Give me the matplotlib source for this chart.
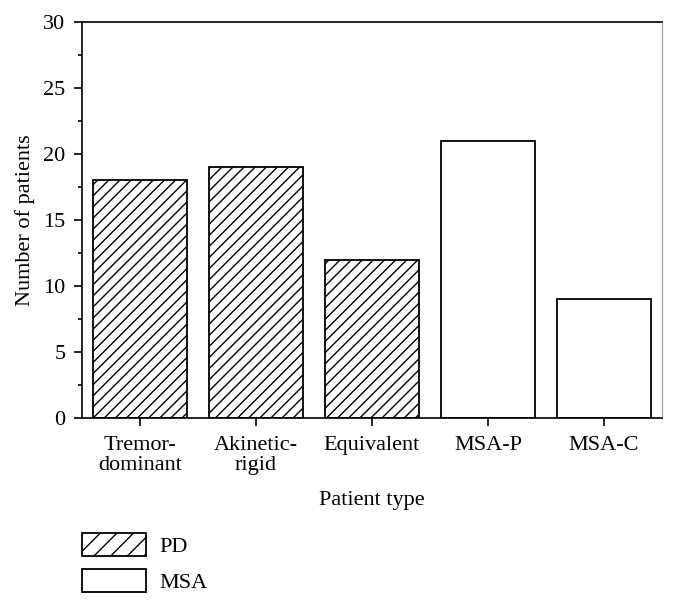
import matplotlib.pyplot as plt
from matplotlib.patches import Patch
from matplotlib.ticker import MultipleLocator

plt.rcParams['font.family'] = ['Liberation Serif', 'DejaVu Serif']
plt.rcParams['hatch.linewidth'] = 0.5

# data
categories = ['Tremor-\ndominant', 'Akinetic-\nrigid', 'Equivalent', 'MSA-P', 'MSA-C']
counts = [18, 19, 12, 21, 9]
groups = ['PD', 'PD', 'PD', 'MSA', 'MSA']

# 200 dpi so the hatch spacing comes out close to the original
DPI = 200
W, H = 676, 609
fig = plt.figure(figsize=(W / DPI, H / DPI), dpi=DPI)
ax = fig.add_axes([82 / W, 1 - 418 / H, (662 - 82) / W, (418 - 22) / H])

x = range(len(categories))
hatches = ['//////' if g == 'PD' else '' for g in groups]
ax.bar(x, counts, width=0.81, color='white', edgecolor='black', linewidth=0.65,
       hatch=hatches)

fs = 8
ax.set_xlim(-0.5, 4.5)
ax.set_ylim(0, 30)
ax.set_xticks(list(x))
ax.set_xticklabels(categories, fontsize=fs, linespacing=1.05)
ax.yaxis.set_major_locator(MultipleLocator(5))
ax.yaxis.set_minor_locator(MultipleLocator(2.5))
ax.tick_params(axis='both', direction='out', length=3, width=0.6, labelsize=fs)
ax.tick_params(axis='y', which='minor', direction='out', length=1.6, width=0.6)
ax.tick_params(axis='x', pad=3.5)
ax.tick_params(axis='y', pad=3)

for side in ['left', 'bottom', 'top']:
    ax.spines[side].set_linewidth(0.6)
ax.spines['right'].set_linewidth(0.4)
ax.spines['right'].set_color('#999999')

ax.set_xlabel('Patient type', fontsize=fs, labelpad=6)
ax.set_ylabel('Number of patients', fontsize=fs, labelpad=3)

handles = [Patch(facecolor='white', edgecolor='black', hatch='////', linewidth=0.65, label='PD'),
           Patch(facecolor='white', edgecolor='black', linewidth=0.65, label='MSA')]
fig.legend(handles=handles, loc='upper left', bbox_to_anchor=(62 / W, 1 - 513 / H),
           frameon=False, fontsize=fs, handlelength=2.9, handleheight=1.2,
           labelspacing=0.55, handletextpad=0.6)

fig.savefig('out.png', dpi=DPI)
